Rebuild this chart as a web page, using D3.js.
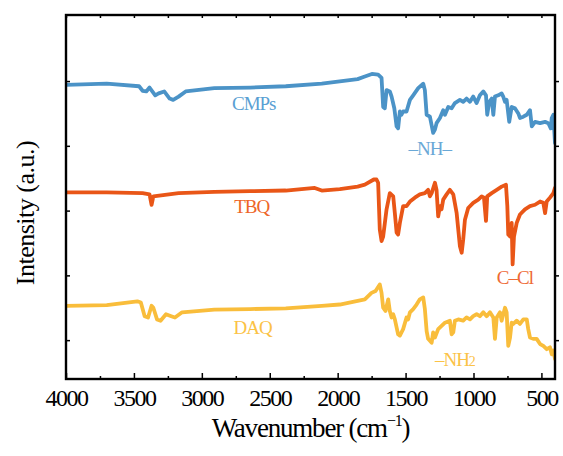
<!DOCTYPE html>
<html>
<head>
<meta charset="utf-8">
<script src="https://cdn.jsdelivr.net/npm/d3@7"></script>
<style>
  body { margin: 0; background: #fff; }
  text { font-family: "Liberation Serif", "Times New Roman", serif; }
</style>
</head>
<body>
<svg id="main" width="563" height="456"></svg>
<script>
// FTIR spectra, [wavenumber, intensity (a.u., offset)]
var cmps = [
  [4000, 39.4], [3700, 39.6], [3462, 39.2], [3436, 38.5], [3409, 38.4], [3385, 39.0],
  [3343, 37.8], [3318, 38.1], [3277, 38.4], [3237, 37.3], [3211, 37.1], [3171, 37.6],
  [3119, 38.4], [2908, 38.9], [2645, 39.0], [2382, 39.2], [2117, 39.6], [1853, 40.3],
  [1800, 40.7], [1748, 41.1], [1702, 41.0], [1677, 40.5], [1665, 36.0], [1653, 35.8],
  [1640, 38.6], [1616, 38.4], [1603, 37.6], [1583, 35.8], [1566, 33.0], [1555, 32.7],
  [1542, 35.3], [1530, 34.8], [1518, 35.3], [1493, 35.3], [1468, 37.1], [1444, 37.8],
  [1407, 38.9], [1370, 39.6], [1358, 38.6], [1345, 34.8], [1321, 34.5], [1297, 32.0],
  [1284, 32.5], [1272, 33.5], [1247, 34.3], [1223, 35.5], [1210, 34.8], [1186, 36.0],
  [1161, 35.8], [1137, 36.6], [1100, 37.1], [1076, 36.8], [1051, 37.3], [1026, 36.8],
  [1002, 37.6], [977, 36.6], [953, 37.8], [928, 38.4], [908, 37.8], [899, 34.8],
  [884, 36.8], [866, 37.3], [854, 34.8], [842, 37.6], [818, 37.8], [793, 38.1],
  [781, 37.6], [768, 36.8], [756, 37.1], [737, 33.7], [719, 36.0], [695, 35.8],
  [670, 35.0], [658, 34.3], [633, 34.5], [608, 34.8], [584, 35.5], [571, 33.0],
  [547, 33.7], [510, 33.5], [473, 33.7], [449, 33.5], [431, 32.7], [424, 34.3],
  [412, 34.8], [400, 30.4]
];

var tbq = [
  [4000, 22.8], [3700, 22.8], [3436, 22.7], [3385, 22.5], [3370, 20.9], [3357, 22.2],
  [3171, 22.7], [2908, 22.9], [2645, 23.0], [2382, 23.1], [2169, 23.5], [2117, 23.1],
  [1984, 23.3], [1853, 23.7], [1800, 24.0], [1734, 24.8], [1714, 24.8], [1702, 24.3],
  [1690, 17.1], [1677, 15.3], [1665, 16.0], [1640, 20.2], [1616, 22.7], [1591, 22.2],
  [1579, 19.6], [1566, 16.6], [1555, 16.3], [1542, 18.1], [1518, 20.7], [1493, 20.7],
  [1468, 21.4], [1432, 22.0], [1395, 22.5], [1358, 22.7], [1334, 23.2], [1321, 22.2],
  [1308, 22.7], [1284, 24.3], [1272, 23.2], [1260, 19.1], [1247, 20.7], [1235, 20.2],
  [1223, 21.7], [1198, 22.5], [1174, 23.2], [1149, 22.5], [1124, 19.6], [1100, 14.5],
  [1087, 13.5], [1076, 15.5], [1063, 18.6], [1039, 20.4], [1002, 21.2], [965, 21.7],
  [940, 22.2], [923, 22.0], [908, 18.4], [899, 22.2], [866, 22.7], [829, 23.2],
  [793, 23.7], [761, 24.0], [751, 20.7], [744, 16.3], [731, 16.0], [719, 18.1],
  [712, 11.7], [702, 16.0], [682, 18.1], [658, 19.4], [621, 20.2], [584, 20.7],
  [547, 20.9], [510, 21.4], [486, 21.2], [473, 19.6], [461, 21.4], [437, 22.0],
  [412, 22.7], [400, 23.5]
];

var daq = [
  [4000, 5.3], [3700, 5.4], [3475, 6.0], [3449, 5.8], [3421, 3.7], [3396, 3.5],
  [3370, 5.3], [3357, 5.0], [3330, 3.2], [3304, 3.0], [3264, 4.0], [3225, 3.7],
  [3198, 3.5], [3145, 4.3], [2908, 4.7], [2645, 4.8], [2382, 4.9], [2117, 5.3],
  [1984, 5.5], [1800, 6.3], [1751, 7.3], [1721, 7.6], [1690, 8.6], [1677, 7.3],
  [1665, 5.0], [1648, 4.5], [1628, 6.3], [1616, 4.5], [1603, 3.5], [1591, 4.0],
  [1579, 3.2], [1555, 0.9], [1542, 0.7], [1518, 1.7], [1493, 3.5], [1481, 3.2],
  [1468, 4.3], [1444, 4.8], [1419, 5.5], [1395, 6.3], [1370, 6.6], [1358, 4.8],
  [1345, 1.4], [1334, 0.2], [1308, -0.4], [1297, 1.2], [1284, 0.4], [1260, 1.7],
  [1235, 2.2], [1210, 2.7], [1174, 3.0], [1161, 0.9], [1149, 1.2], [1137, 3.0],
  [1112, 3.2], [1076, 3.0], [1051, 3.5], [1026, 3.2], [1002, 3.7], [977, 4.0],
  [953, 3.7], [928, 4.3], [903, 3.7], [879, 4.3], [854, 3.5], [842, 0.2],
  [829, 3.5], [805, 4.3], [793, 3.0], [768, 5.0], [756, 4.3], [744, -0.9],
  [731, 0.4], [719, 2.7], [707, 2.5], [682, 3.0], [658, 2.5], [633, 3.2],
  [608, 3.2], [597, 1.7], [584, 0.4], [560, 0.2], [535, 0.2], [510, -0.6],
  [486, -0.9], [461, -1.4], [437, -1.1], [424, -2.2], [412, -1.6], [400, -2.9]
];

var xMajorTicks = [4000, 3500, 3000, 2500, 2000, 1500, 1000, 500];
var xMinorTicks = [3750, 3250, 2750, 2250, 1750, 1250, 750];
var yTicks = [0, 10, 20, 30, 40];

var series = [
  { name: "CMPs", data: cmps, color: "#4b93c7" },
  { name: "TBQ", data: tbq, color: "#e95617" },
  { name: "DAQ", data: daq, color: "#f9bd3b" }
];

// annotations: [text, wavenumber, intensity, color]
var notes = [
  ["CMPs", 2618, 35.5, "#5a9fd3"],
  ["TBQ", 2633, 19.7, "#ee6628"],
  ["DAQ", 2626, 0.9, "#fbc246"],
  ["\u2013NH\u2013", 1322, 28.6, "#6aa8d6"],
  ["C\u2013Cl", 695, 8.6, "#ee6a35"]
];

var svg = d3.select("#main");
var margin = { left: 66, right: 8, top: 15, bottom: 77 };
var W = 563, H = 456;

var x = d3.scaleLinear().domain([4000, 400]).range([margin.left, W - margin.right]);
var y = d3.scaleLinear().domain([-6, 50.2]).range([H - margin.bottom, margin.top]);

var line = d3.line()
  .x(function(d) { return x(d[0]); })
  .y(function(d) { return y(d[1]); });

var plot = svg.append("g");
plot.append("clipPath").attr("id", "clip")
  .append("rect")
  .attr("x", margin.left).attr("y", margin.top)
  .attr("width", W - margin.left - margin.right)
  .attr("height", H - margin.top - margin.bottom);

series.forEach(function(s) {
  plot.append("path")
    .datum(s.data)
    .attr("clip-path", "url(#clip)")
    .attr("fill", "none")
    .attr("stroke", s.color)
    .attr("stroke-width", 3.8)
    .attr("stroke-linejoin", "round")
    .attr("stroke-linecap", "round")
    .attr("d", line);
});

// axes
var gx = svg.append("g").attr("transform", "translate(0," + y.range()[0] + ")");
gx.call(d3.axisBottom(x).tickValues(xMajorTicks).tickSize(-6).tickPadding(10).tickFormat(d3.format("d")));
gx.append("g").call(d3.axisBottom(x).tickValues(xMinorTicks).tickSize(-3).tickFormat(""));
gx.selectAll("text")
  .attr("fill", "#000")
  .style("font-size", "24px")
  .style("letter-spacing", "-1.5px");

var gt = svg.append("g").attr("transform", "translate(0," + y.range()[1] + ")");
gt.call(d3.axisTop(x).tickValues(xMajorTicks.concat(xMinorTicks)).tickSize(-3).tickFormat(""));

var gy = svg.append("g").attr("transform", "translate(" + x.range()[0] + ",0)");
gy.call(d3.axisLeft(y).tickValues(yTicks).tickSize(-4).tickFormat(""));

var gr = svg.append("g").attr("transform", "translate(" + x.range()[1] + ",0)");
gr.call(d3.axisRight(y).tickValues(yTicks).tickSize(4).tickFormat(""));

svg.selectAll(".domain").remove();
svg.selectAll(".tick line").attr("stroke", "#000").attr("stroke-width", 1.5);

svg.append("rect")
  .attr("x", x.range()[0]).attr("y", y.range()[1])
  .attr("width", x.range()[1] - x.range()[0])
  .attr("height", y.range()[0] - y.range()[1])
  .attr("fill", "none")
  .attr("stroke", "#000")
  .attr("stroke-width", 2.4);

// series labels
notes.forEach(function(n) {
  svg.append("text")
    .attr("x", x(n[1])).attr("y", y(n[2]))
    .attr("text-anchor", "middle")
    .attr("fill", n[3])
    .style("font-size", "19px")
    .style("letter-spacing", "-1px")
    .text(n[0]);
});

var nh2 = svg.append("text")
  .attr("x", x(1137)).attr("y", y(-4.0))
  .attr("text-anchor", "middle")
  .attr("fill", "#fbc246")
  .style("font-size", "19px")
  .style("letter-spacing", "-1px");
nh2.append("tspan").text("\u2013NH");
nh2.append("tspan").style("font-size", "14px").text("2");

// axis titles
var xt = svg.append("text")
  .attr("x", (x.range()[0] + x.range()[1]) / 2)
  .attr("y", 437)
  .attr("text-anchor", "middle")
  .style("font-size", "27px")
  .style("letter-spacing", "-1.2px");
xt.append("tspan").text("Wavenumber (cm");
xt.append("tspan").attr("dy", -11).style("font-size", "16px").text("\u22121");
xt.append("tspan").attr("dy", 11).text(")");

svg.append("text")
  .attr("transform", "translate(34," + ((y.range()[0] + y.range()[1]) / 2 + 16) + ") rotate(-90)")
  .attr("text-anchor", "middle")
  .style("font-size", "26px")
  .style("letter-spacing", "-0.5px")
  .text("Intensity (a.u.)");
</script>
</body>
</html>
